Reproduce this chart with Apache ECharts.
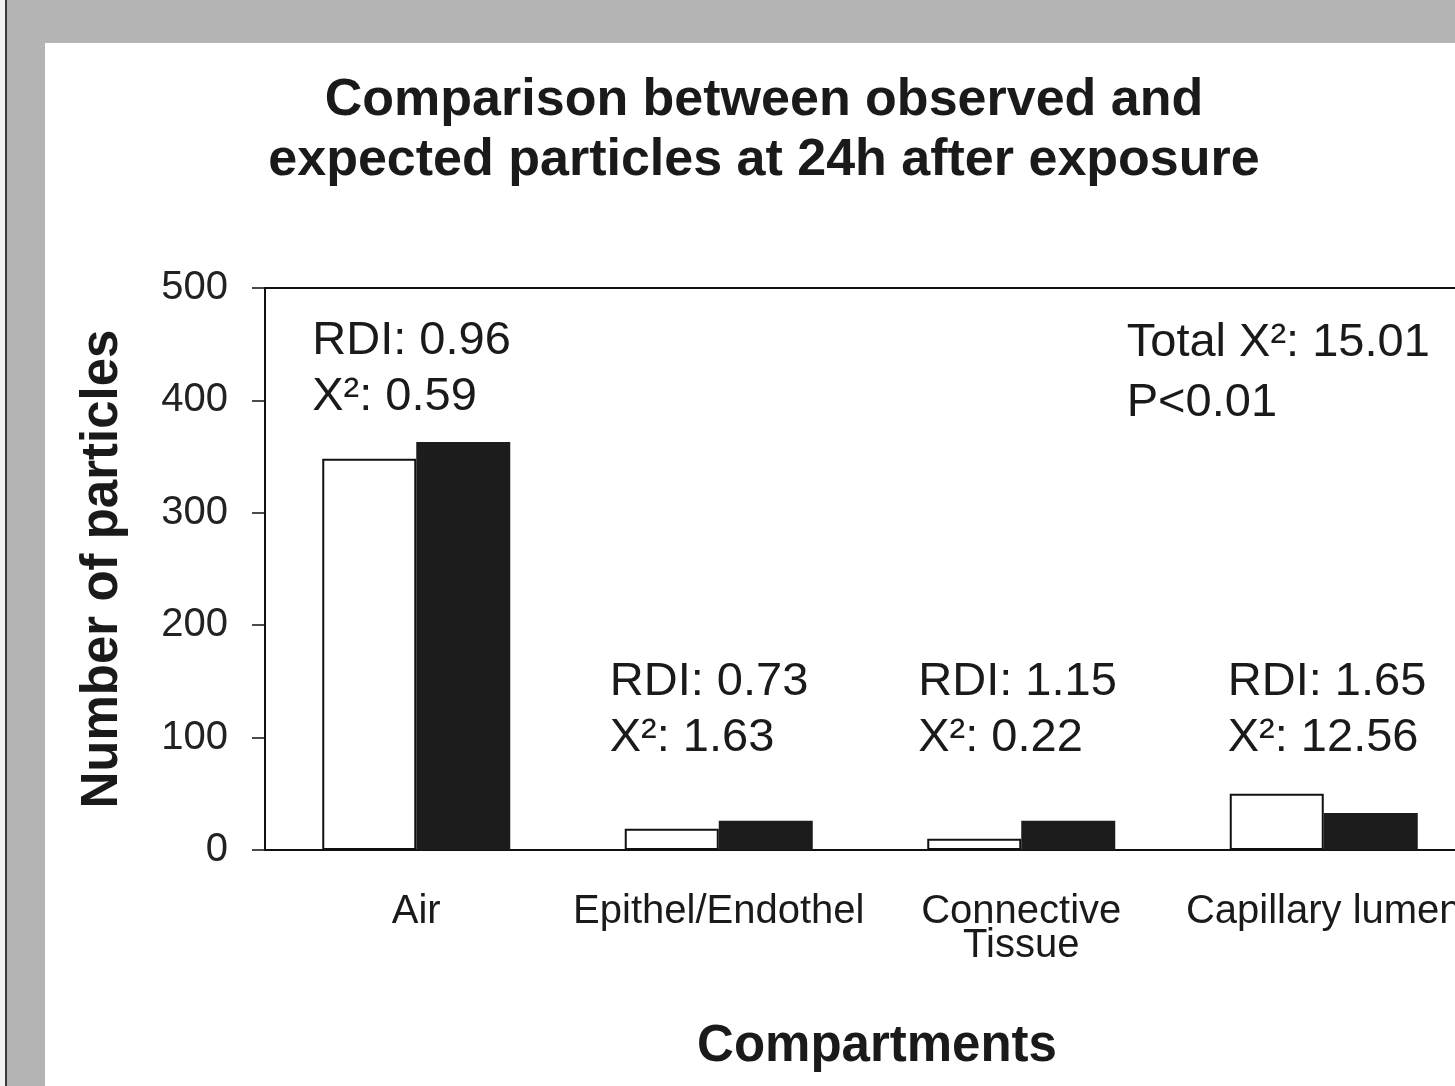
<!DOCTYPE html>
<html>
<head>
<meta charset="utf-8">
<script src="https://cdn.jsdelivr.net/npm/echarts@6/dist/echarts.min.js"></script>
<style>
  html, body { margin: 0; width: 1455px; height: 1086px; overflow: hidden; background: #b4b4b4; }
  .edge { position: absolute; left: 0; top: 0; width: 5px; height: 1086px; background: #f2f2f2; }
  .edge2 { position: absolute; left: 5px; top: 0; width: 2px; height: 1086px; background: #3a3a3a; }
  .panel { position: absolute; left: 45px; top: 43px; right: 0; bottom: 0; background: #fff; }
  #chart { position: absolute; left: 0; top: 0; width: 1480px; height: 1086px; }
</style>
</head>
<body>
<div class="edge"></div>
<div class="edge2"></div>
<div class="panel"></div>
<div id="chart"></div>
<script>
// 数据
var categories = ['Air', 'Epithel/Endothel', 'Connective\nTissue', 'Capillary lumen'];
var observed = [348, 19, 10, 50];
var expected = [363, 26, 26, 33];
var rdi = ['0.96', '0.73', '1.15', '1.65'];
var chi2 = ['0.59', '1.63', '0.22', '12.56'];
var totalChi2 = '15.01';
var pValue = 'P<0.01';
var yTicks = [0, 100, 200, 300, 400, 500];

(function () {
  var font = '"Liberation Sans", Arial, sans-serif';
  var ink = '#1a1a1a';
  var chart = echarts.init(document.getElementById('chart'), null, { renderer: 'canvas' });
  var option = {
    backgroundColor: 'transparent',
    animation: false,
    title: {
      text: 'Comparison between observed and\nexpected particles at 24h after exposure',
      left: 759,
      top: 66,
      textAlign: 'center',
      textStyle: { fontFamily: font, fontSize: 52, fontWeight: 'bold', lineHeight: 60, color: ink }
    },
    grid: {
      left: 265, top: 288, width: 1210, height: 562,
      show: true, borderColor: '#111', borderWidth: 2, backgroundColor: '#fff'
    },
    xAxis: {
      type: 'category',
      data: categories,
      name: 'Compartments',
      nameLocation: 'middle',
      nameGap: 171,
      nameTextStyle: { fontFamily: font, fontSize: 51, fontWeight: 'bold', color: ink, padding: [0, 0, 0, 14] },
      axisLine: { lineStyle: { color: '#111', width: 2 } },
      axisTick: { length: 14, lineStyle: { color: '#111', width: 1.5 } },
      axisLabel: { fontFamily: font, fontSize: 40, lineHeight: 34, color: ink, margin: 45, interval: 0 }
    },
    yAxis: {
      type: 'value',
      min: yTicks[0],
      max: yTicks[yTicks.length - 1],
      interval: 100,
      name: 'Number of particles',
      nameLocation: 'middle',
      nameGap: 137,
      nameTextStyle: { fontFamily: font, fontSize: 51, fontWeight: 'bold', color: ink },
      axisLine: { show: true, lineStyle: { color: '#111', width: 2 } },
      axisTick: { show: true, length: 13, lineStyle: { color: '#111', width: 1.5 } },
      axisLabel: { fontFamily: font, fontSize: 40, color: '#222', margin: 37 },
      splitLine: { show: false }
    },
    series: [{
      name: 'Observed',
      type: 'bar',
      data: observed,
      barWidth: 94,
      barGap: '0%',
      itemStyle: { color: '#fff', borderColor: '#111', borderWidth: 2 }
    }, {
      name: 'Expected',
      type: 'bar',
      data: expected,
      barWidth: 94,
      itemStyle: { color: '#1c1c1c' }
    }]
  };
  chart.setOption(option);

  // 注释文字的位置
  var noteTop = [478, 174, 174, 174];
  var noteDx = [-104, -109, -103, -96];
  var noteFont = '47px ' + font;
  var graphics = [];
  categories.forEach(function (c, i) {
    var p = chart.convertToPixel({ gridIndex: 0 }, [i, noteTop[i]]);
    graphics.push({
      type: 'text',
      x: p[0] + noteDx[i],
      y: p[1],
      style: {
        text: 'RDI: ' + rdi[i] + '\nX\u00b2: ' + chi2[i],
        font: noteFont, fill: ink, lineHeight: 56,
        textAlign: 'left', textVerticalAlign: 'top'
      }
    });
  });
  var pt = chart.convertToPixel({ gridIndex: 0 }, [3, 478]);
  graphics.push({
    type: 'text',
    x: pt[0] - 197,
    y: pt[1],
    style: {
      text: 'Total X\u00b2: ' + totalChi2 + '\n' + pValue,
      font: noteFont, fill: ink, lineHeight: 60,
      textAlign: 'left', textVerticalAlign: 'top'
    }
  });
  chart.setOption({ graphic: graphics });
})();
</script>
</body>
</html>
